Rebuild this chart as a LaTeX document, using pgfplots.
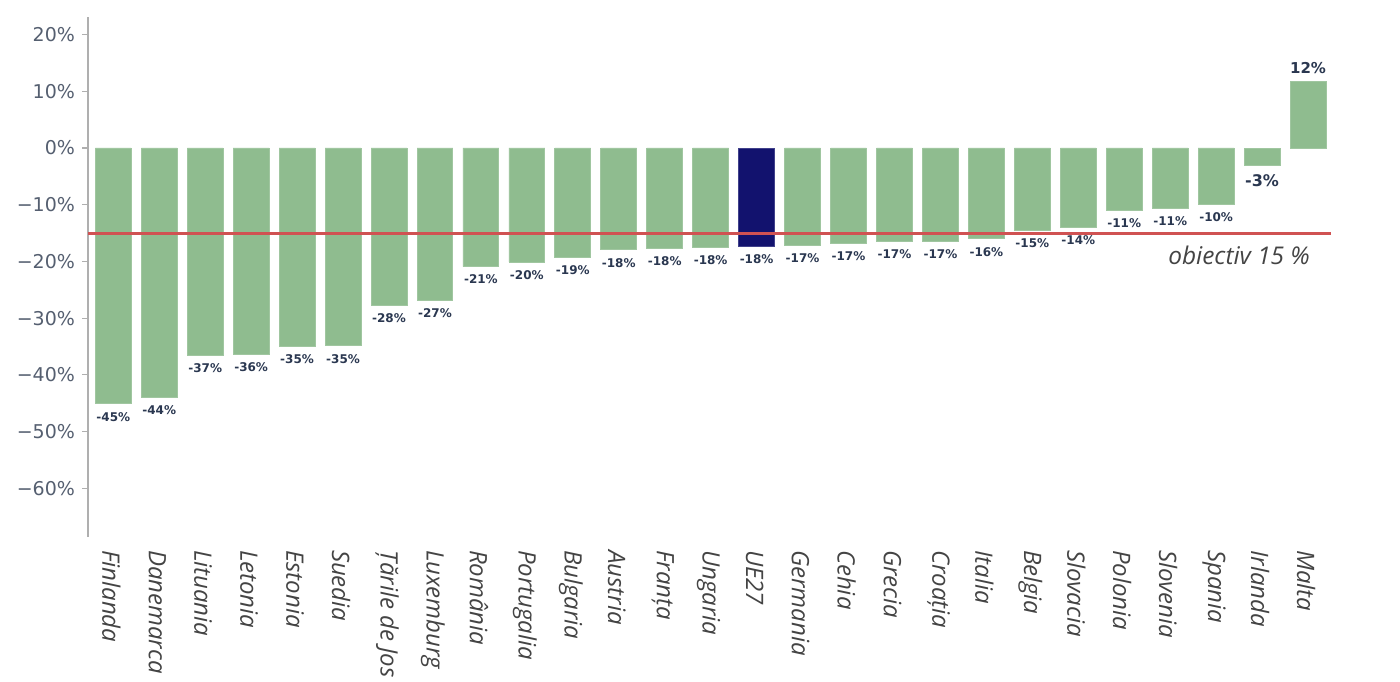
\documentclass[border=0pt]{standalone}
\usepackage{pgfplots}
\pgfplotsset{compat=1.18}
\usepackage{fontspec}
\setmainfont{Open Sans}
\newfontfamily\dejavu{DejaVu Sans}
\newfontfamily\labfont{Open Sans Italic}
\definecolor{bargreen}{RGB}{143,188,143}
\definecolor{barnavy}{RGB}{18,18,110}
\definecolor{goalred}{RGB}{208,82,82}
\definecolor{ticktext}{RGB}{85,95,112}
\definecolor{labtext}{RGB}{68,68,68}
\definecolor{valtext}{RGB}{42,55,80}
\begin{document}
\begin{tikzpicture}
\useasboundingbox (0,0) rectangle (700pt,340.5pt);
\begin{axis}[
  at={(44pt,72pt)}, anchor=south west,
  scale only axis, width=621.5pt, height=260pt,
  xmin=-0.55, xmax=26.5, ymin=-68.6, ymax=23.1,
  axis y line*=left, axis x line*=bottom,
  x axis line style={draw=none},
  y axis line style={draw={rgb,255:red,175;green,175;blue,175}, line width=0.6pt},
  xtick={0,...,26}, xtick style={draw=none},
  xticklabels={Finlanda,Danemarca,Lituania,Letonia,Estonia,Suedia,Țările de Jos,Luxemburg,România,Portugalia,Bulgaria,Austria,Franța,Ungaria,UE27,Germania,Cehia,Grecia,Croația,Italia,Belgia,Slovacia,Polonia,Slovenia,Spania,Irlanda,Malta},
  xticklabel style={rotate=-90, anchor=west, font=\labfont\fontsize{12}{12}\selectfont, text=labtext, xshift=0pt, yshift=-1pt},
  ytick={-60,-50,-40,-30,-20,-10,0,10,20},
  yticklabels={−60\%,−50\%,−40\%,−30\%,−20\%,−10\%,0\%,10\%,20\%},
  yticklabel style={font=\dejavu\fontsize{9.5}{9.5}\selectfont, text=ticktext},
  ytick style={draw={rgb,255:red,175;green,175;blue,175}, line width=0.6pt},
  tick align=outside, major tick length=3pt,
  bar width=0.78,
  point meta=explicit symbolic,
  nodes near coords,
  clip=false,
]
\addplot[ybar, fill=bargreen, draw=bargreen!85!white,
  nodes near coords style={anchor=north, font=\dejavu\bfseries\fontsize{6}{6}\selectfont, text=valtext, inner sep=2pt, yshift=-2pt}]
  coordinates {
  (0,-45.1) [-45\%]
  (1,-43.9) [-44\%]
  (2,-36.6) [-37\%]
  (3,-36.4) [-36\%]
  (4,-35.0) [-35\%]
  (5,-34.9) [-35\%]
  (6,-27.7) [-28\%]
  (7,-26.8) [-27\%]
  (8,-20.9) [-21\%]
  (9,-20.1) [-20\%]
  (10,-19.3) [-19\%]
  (11,-17.95) [-18\%]
  (12,-17.7) [-18\%]
  (13,-17.5) [-18\%]
  (15,-17.1) [-17\%]
  (16,-16.8) [-17\%]
  (17,-16.5) [-17\%]
  (18,-16.4) [-17\%]
  (19,-16.0) [-16\%]
  (20,-14.5) [-15\%]
  (21,-14.0) [-14\%]
  (22,-11.05) [-11\%]
  (23,-10.6) [-11\%]
  (24,-9.9) [-10\%]
  };
\addplot[ybar, fill=barnavy, draw=barnavy!80!white,
  nodes near coords style={anchor=north, font=\dejavu\bfseries\fontsize{6}{6}\selectfont, text=valtext, inner sep=2pt, yshift=-2pt}]
  coordinates {(14,-17.4) [-18\%]};
\addplot[ybar, fill=bargreen, draw=bargreen!85!white,
  nodes near coords style={anchor=north, font=\dejavu\bfseries\fontsize{8}{8}\selectfont, text=valtext, inner sep=2pt, yshift=-2.5pt}]
  coordinates {(25,-3.0) [-3\%]};
\addplot[ybar, fill=bargreen, draw=bargreen!85!white,
  nodes near coords style={anchor=south, font=\dejavu\bfseries\fontsize{7.5}{7.5}\selectfont, text=valtext, inner sep=2pt, yshift=1.5pt}]
  coordinates {(26,11.75) [12\%]};
\addplot[goalred, line width=1.5pt, mark=none, nodes near coords={}] coordinates {(-0.55,-15) (26.5,-15)};
\node[font=\labfont\fontsize{12.2}{12.2}\selectfont, text=labtext] at (axis cs:24.5,-18.9) {obiectiv 15 \%};
\end{axis}
\end{tikzpicture}
\end{document}
